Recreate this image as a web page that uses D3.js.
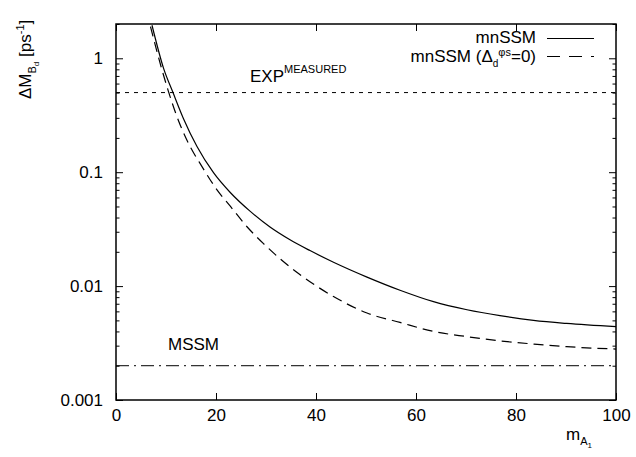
<!DOCTYPE html>
<html>
<head>
<meta charset="utf-8">
<script src="https://cdn.jsdelivr.net/npm/d3@7"></script>
<style>
  html, body { margin: 0; padding: 0; background: #fff; }
  svg { display: block; font-family: "Liberation Sans", Arial, Helvetica, sans-serif; }
</style>
</head>
<body>
<svg id="chart" width="636" height="457"></svg>
<script>
// mass of A1 (GeV) and Delta M_Bd (ps^-1) for the two mnSSM scenarios
const mA1Full = [7.2, 9.5, 11.4, 13.5, 16.2, 19.5, 22.9, 26.8, 30.8, 34.8, 38.8, 43.5, 50.2, 56.8, 63.5, 70.2, 76.8, 83.5, 90.1, 100];
const dMFull  = [1.95, 0.82, 0.50, 0.295, 0.168, 0.099, 0.066, 0.0455, 0.0330, 0.0255, 0.0205, 0.0162, 0.0120, 0.0092, 0.0073, 0.0062, 0.0055, 0.0050, 0.0047, 0.0044];

const mA1Zero = [6.9, 9.2, 10.5, 12.2, 14.5, 17.2, 20.2, 22.9, 26.2, 29.5, 32.8, 36.5, 43.5, 50.2, 56.8, 63.5, 70.2, 76.8, 83.5, 90.1, 100];
const dMZero  = [1.9, 0.79, 0.51, 0.307, 0.179, 0.112, 0.070, 0.050, 0.0332, 0.0236, 0.0174, 0.0129, 0.0081, 0.0058, 0.0048, 0.0040, 0.0036, 0.0033, 0.0031, 0.00294, 0.0028];

// reference levels
const expMeasured = 0.5;
const mssmValue = 0.002;

// axis ticks
const xTicks = [0, 20, 40, 60, 80, 100];
const yMajor = [0.001, 0.01, 0.1, 1];
const yMinorFactors = [2, 3, 4, 5, 6, 7, 8, 9];

const svg = d3.select("#chart");
const L = 116, R = 616, T = 24, B = 400;

const x = d3.scaleLinear().domain([0, 100]).range([L, R]);
const y = d3.scaleLog().domain([0.001, 2]).range([B, T]);

const yMinor = [];
yMajor.forEach(d => yMinorFactors.forEach(f => { const v = d * f; if (v <= 2) yMinor.push(v); }));

svg.append("defs").append("clipPath").attr("id", "plotArea")
  .append("rect").attr("x", L).attr("y", T).attr("width", R - L).attr("height", B - T);

const fontSize = 17;

// x axes (bottom with labels, top mirrored)
const gxb = svg.append("g").attr("transform", `translate(0,${B})`)
  .call(d3.axisBottom(x).tickValues(xTicks).tickSize(-7).tickPadding(9).tickFormat(d3.format("d")));
const gxt = svg.append("g").attr("transform", `translate(0,${T})`)
  .call(d3.axisTop(x).tickValues(xTicks).tickSize(-7).tickFormat(""));

// y axes: majors with labels, minors short, mirrored on right
const gyl = svg.append("g").attr("transform", `translate(${L},0)`)
  .call(d3.axisLeft(y).tickValues(yMajor).tickSize(-7).tickPadding(13).tickFormat(d => String(d)));
const gylm = svg.append("g").attr("transform", `translate(${L},0)`)
  .call(d3.axisLeft(y).tickValues(yMinor).tickSize(-3.5).tickFormat(""));
const gyr = svg.append("g").attr("transform", `translate(${R},0)`)
  .call(d3.axisRight(y).tickValues(yMajor).tickSize(-7).tickFormat(""));
const gyrm = svg.append("g").attr("transform", `translate(${R},0)`)
  .call(d3.axisRight(y).tickValues(yMinor).tickSize(-3.5).tickFormat(""));

[gxb, gxt, gyl, gylm, gyr, gyrm].forEach(g => {
  g.select(".domain").remove();
  g.selectAll(".tick line").attr("stroke", "#000").attr("stroke-width", 1);
  g.selectAll("text").attr("font-size", fontSize).attr("fill", "#000")
    .attr("font-family", "Liberation Sans, Arial, sans-serif");
});

// reference lines
const plot = svg.append("g").attr("clip-path", "url(#plotArea)");
plot.append("line")
  .attr("x1", x(0)).attr("x2", x(100)).attr("y1", y(expMeasured)).attr("y2", y(expMeasured))
  .attr("stroke", "#000").attr("stroke-width", 1).attr("stroke-dasharray", "4,5");
plot.append("line")
  .attr("x1", x(0)).attr("x2", x(100)).attr("y1", y(mssmValue)).attr("y2", y(mssmValue))
  .attr("stroke", "#000").attr("stroke-width", 1).attr("stroke-dasharray", "13,5,2,5");

// curves
const line = d3.line().x(d => x(d[0])).y(d => y(d[1])).curve(d3.curveMonotoneX);
plot.append("path").datum(d3.zip(mA1Full, dMFull))
  .attr("d", line).attr("fill", "none").attr("stroke", "#000").attr("stroke-width", 1.2);
plot.append("path").datum(d3.zip(mA1Zero, dMZero))
  .attr("d", line).attr("fill", "none").attr("stroke", "#000").attr("stroke-width", 1.2)
  .attr("stroke-dasharray", "10,6");

// frame
svg.append("rect").attr("x", L).attr("y", T).attr("width", R - L).attr("height", B - T)
  .attr("fill", "none").attr("stroke", "#000").attr("stroke-width", 1.5);

// in-plot labels
const expLabel = svg.append("text").attr("x", 250).attr("y", 82).attr("font-size", fontSize);
expLabel.append("tspan").text("EXP");
expLabel.append("tspan").attr("font-size", 11).attr("dy", -9).text("MEASURED");

svg.append("text").attr("x", 168).attr("y", 350).attr("font-size", fontSize).text("MSSM");

// legend
const legX = 536;
svg.append("text").attr("x", legX).attr("y", 43).attr("text-anchor", "end")
  .attr("font-size", fontSize).text("mnSSM");
svg.append("line").attr("x1", 547).attr("x2", 594).attr("y1", 38.5).attr("y2", 38.5)
  .attr("stroke", "#000").attr("stroke-width", 1.2);

const leg2 = svg.append("text").attr("x", legX).attr("y", 62).attr("text-anchor", "end")
  .attr("font-size", fontSize);
leg2.append("tspan").text("mnSSM (Δ");
leg2.append("tspan").attr("font-size", 10).attr("dy", 5).text("d");
leg2.append("tspan").attr("font-size", 11).attr("dy", -11).text("φs");
leg2.append("tspan").attr("dy", 6).text("=0)");
svg.append("line").attr("x1", 547).attr("x2", 594).attr("y1", 56.5).attr("y2", 56.5)
  .attr("stroke", "#000").attr("stroke-width", 1.2).attr("stroke-dasharray", "13,9");

// axis titles
const yTitle = svg.append("text").attr("transform", "translate(31,99) rotate(-90)")
  .attr("font-size", fontSize);
yTitle.append("tspan").text("ΔM");
yTitle.append("tspan").attr("font-size", 11).attr("dy", 5).text("B");
yTitle.append("tspan").attr("font-size", 8).attr("dy", 3).text("d");
yTitle.append("tspan").attr("dy", -8).text(" [ps");
yTitle.append("tspan").attr("font-size", 11).attr("dy", -7).text("-1");
yTitle.append("tspan").attr("dy", 7).text("]");

const xTitle = svg.append("text").attr("x", 566).attr("y", 440).attr("font-size", fontSize);
xTitle.append("tspan").text("m");
xTitle.append("tspan").attr("font-size", 11).attr("dy", 5).text("A");
xTitle.append("tspan").attr("font-size", 8).attr("dy", 3).text("1");
</script>
</body>
</html>
